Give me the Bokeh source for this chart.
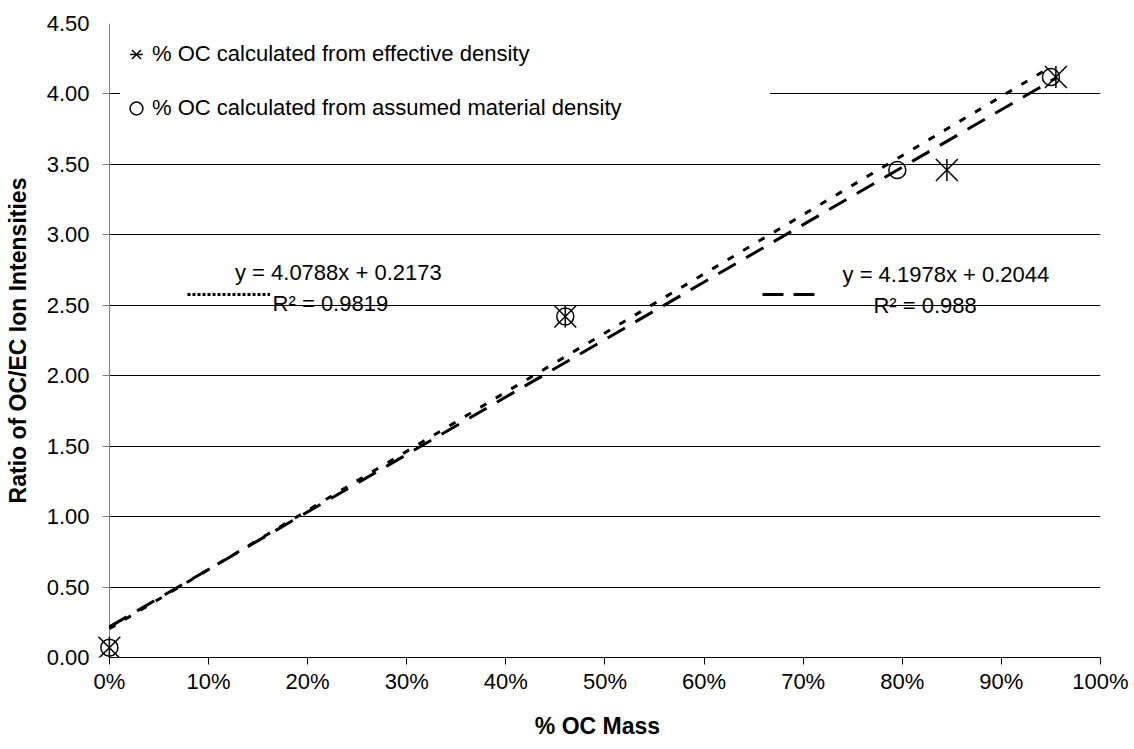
from bokeh.plotting import figure
from bokeh.models import (Legend, LegendItem, Label, FixedTicker, Grid,
                          NumeralTickFormatter, Range1d)
from bokeh.embed import file_html
from bokeh.resources import INLINE
import math

# ---- data ----
eff_x = [0.0, 0.46, 0.845, 0.955]   # % OC from effective density
eff_y = [0.07, 2.42, 3.46, 4.12]
mat_x = [0.0, 0.46, 0.795, 0.95]    # % OC from assumed material density
mat_y = [0.07, 2.42, 3.46, 4.12]

eff_slope, eff_icpt, eff_r2 = 4.0788, 0.2173, 0.9819
mat_slope, mat_icpt, mat_r2 = 4.1978, 0.2044, 0.988

x_ticks = [0.0, 0.1, 0.2, 0.3, 0.4, 0.5, 0.6, 0.7, 0.8, 0.9, 1.0]
y_ticks = [0.0, 0.5, 1.0, 1.5, 2.0, 2.5, 3.0, 3.5, 4.0, 4.5]

legend_eff = "% OC calculated from effective density"
legend_mat = "% OC calculated from assumed material density"
x_title = "% OC Mass"
y_title = "Ratio of OC/EC Ion Intensities"

FONT = "Liberation Sans"
FS = "22px"
NAN = float("nan")

p = figure(width=1134, height=749, output_backend="svg", toolbar_location=None,
           x_range=Range1d(-0.015, 1), y_range=Range1d(0, 4.5),
           min_border_left=94, min_border_right=34, min_border_top=23,
           min_border_bottom=92)
p.outline_line_color = None
p.background_fill_color = "white"
p.border_fill_color = "white"

# axes
p.xaxis.ticker = FixedTicker(ticks=x_ticks)
p.yaxis.ticker = FixedTicker(ticks=y_ticks)
p.xaxis.formatter = NumeralTickFormatter(format="0%")
p.yaxis.formatter = NumeralTickFormatter(format="0.00")
for ax in (p.xaxis[0], p.yaxis[0]):
    ax.major_label_text_font = FONT
    ax.major_label_text_font_size = FS
    ax.major_label_text_color = "black"
    ax.axis_label_text_font = FONT
    ax.axis_label_text_font_size = "23px"
    ax.axis_label_text_font_style = "bold"
    ax.axis_label_text_color = "black"
    ax.minor_tick_line_color = None
    ax.major_tick_in = 0
p.xaxis.major_tick_out = 7
p.xaxis.axis_label = x_title
p.yaxis.axis_label = y_title
p.xaxis.bounds = (0, 1)
p.xaxis.axis_line_color = "black"
p.xaxis.major_tick_line_color = "black"
p.xaxis.major_label_standoff = 4
p.xaxis.axis_label_standoff = 16
# y axis: labels only here; its line and ticks are drawn at x = 0 below
p.yaxis.axis_line_color = None
p.yaxis.major_tick_line_color = None
p.yaxis.major_tick_out = 0
p.yaxis.major_label_standoff = 5
p.yaxis.axis_label_standoff = 13

p.xgrid.grid_line_color = None
p.ygrid.grid_line_color = "black"
p.ygrid.grid_line_width = 1
p.ygrid.cross_bounds = (0, 1)

# y-axis line at x = 0 and its outward ticks
p.add_layout(Grid(dimension=0, ticker=FixedTicker(ticks=[0.0]),
                  grid_line_color="#808080", grid_line_width=1,
                  cross_bounds=(0, 4.5)))
p.add_layout(Grid(dimension=1, ticker=FixedTicker(ticks=y_ticks),
                  grid_line_color="#808080", grid_line_width=1,
                  cross_bounds=(-0.007, 0)))

# trend lines (from the displayed equations, across each series' x extent)
ex = [min(eff_x), max(eff_x)]
mx = [min(mat_x), max(mat_x)]
l_eff = p.line(ex, [eff_slope * v + eff_icpt for v in ex], line_color="black",
               line_width=3, line_dash="20 12")
l_mat = p.line(mx, [mat_slope * v + mat_icpt for v in mx], line_color="black",
               line_width=3, line_dash="7 11")

# markers
r_ex = p.scatter(eff_x, eff_y, marker="x", size=31, line_color="black",
                 line_width=1.5)
r_ev = p.scatter(eff_x, eff_y, marker="dash", size=22, angle=math.pi / 2,
                 line_color="black", line_width=1.5)
r_c = p.scatter(mat_x, mat_y, marker="circle", size=17, fill_color=None,
                line_color="black", line_width=1.5)

leg = Legend(items=[LegendItem(label=legend_eff, renderers=[r_ex, r_ev]),
                    LegendItem(label=legend_mat, renderers=[r_c])],
             location=(26, 531), margin=0, padding=8, spacing=18,
             glyph_width=32, glyph_height=36, label_standoff=0,
             label_width=618,
             label_text_font=FONT, label_text_font_size=FS,
             label_text_color="black",
             background_fill_color="white", background_fill_alpha=1.0,
             border_line_color=None)
p.add_layout(leg)

# trend-line keys (renderers with no visible data, used only as legend glyphs)
k_dot = p.line([NAN], [NAN], line_color="black", line_width=3,
               line_dash="3 2")
k_dash = p.line([NAN], [NAN], line_color="black", line_width=3,
                line_dash="21 10")
for rend, loc, gw in ((k_dot, (93, 353), 83), (k_dash, (668, 353), 53)):
    p.add_layout(Legend(items=[LegendItem(label=" ", renderers=[rend])],
                        location=loc, padding=0, margin=0, glyph_width=gw,
                        glyph_height=20, label_height=20, label_width=0,
                        label_standoff=0, label_text_font_size="1px",
                        background_fill_alpha=0, border_line_color=None))

def eq_text(s, i):
    return "y = %.4fx + %.4f" % (s, i)

labels = [
    (0.231, 2.73, eq_text(eff_slope, eff_icpt)),
    (0.223, 2.51, "R\u00b2 = %s" % eff_r2),
    (0.844, 2.716, eq_text(mat_slope, mat_icpt)),
    (0.823, 2.50, "R\u00b2 = %s" % mat_r2),
]
for lx, ly, t in labels:
    p.add_layout(Label(x=lx, y=ly, text=t, text_font=FONT, text_font_size=FS,
                       text_align="center", text_baseline="middle",
                       text_color="black"))

open("out.html", "w").write(file_html(p, INLINE))
